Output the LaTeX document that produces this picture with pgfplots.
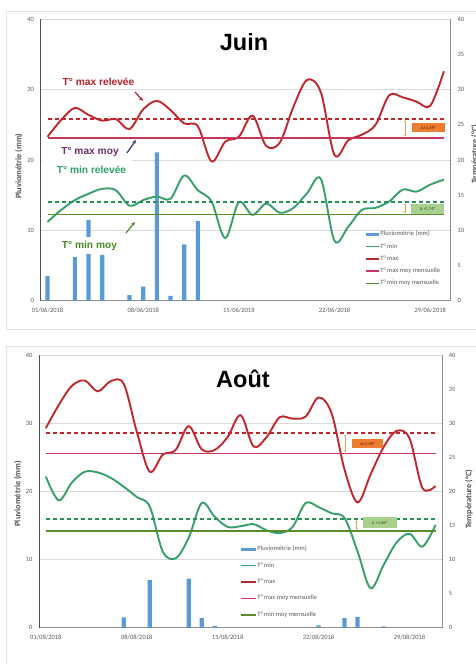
\documentclass[border=0pt]{standalone}
\usepackage{pgfplots}
\pgfplotsset{compat=1.18}
\usepackage{fontspec}
\setmainfont{Carlito}
\newfontfamily\arialfont{Liberation Sans}
\usetikzlibrary{arrows.meta}

\definecolor{tmaxc}{HTML}{C0272D}
\definecolor{tminc}{HTML}{35A06A}
\definecolor{tmindash}{HTML}{2B8F5A}
\definecolor{maxmoyc}{HTML}{C8365E}
\definecolor{minmoyc}{HTML}{5B8C2C}
\definecolor{barc}{HTML}{5B9BD5}
\definecolor{gridc}{HTML}{D9D9D9}
\definecolor{axisc}{HTML}{8C8C8C}
\definecolor{darkaxis}{HTML}{505050}
\definecolor{labelc}{HTML}{595959}
\definecolor{framec}{HTML}{E3E3E3}
\definecolor{orangebox}{HTML}{ED7D31}
\definecolor{greenbox}{HTML}{A9D18E}
\definecolor{tanc}{HTML}{D9A25F}
\definecolor{annred}{HTML}{B3222F}
\definecolor{annpurple}{HTML}{6B2D6E}
\definecolor{arrpurple}{HTML}{4A2C7A}
\definecolor{anntgreen}{HTML}{2EA06C}
\definecolor{anngreen}{HTML}{4A8A28}
\definecolor{boxtext}{HTML}{5A1E00}
\definecolor{boxtextg}{HTML}{2F4A20}

\pgfplotsset{
  base/.style={scale only axis, anchor=south west, ymin=0, ymax=40, clip=false,
    tick style={draw=none}, major tick length=0pt,
    /pgf/number format/assume math mode=true,
    ticklabel style={font=\fontsize{6.5bp}{7bp}\selectfont, text=labelc},
    label style={font=\bfseries\fontsize{8.4bp}{9bp}\selectfont, text=darkaxis}},
  leftax/.style={base, axis x line*=bottom, axis y line*=left, ytick={0,10,20,30,40},
    ymajorgrids, grid style={draw=gridc, line width=0.7bp},
    x axis line style={-, draw=axisc, line width=0.7bp},
    y axis line style={-, draw=darkaxis, line width=0.7bp},
    yticklabel style={xshift=-3.3bp}, xticklabel style={yshift=-4.2bp},
    xtick={1,8,15,22,29},
    ylabel={Pluviométrie (mm)},
    ylabel style={at={(axis description cs:-0.053,0.478)}, anchor=center},
    legend cell align=left,
    legend style={draw=none, fill=none, font=\fontsize{6.5bp}{7bp}\selectfont, text=labelc,
      anchor=north west, inner sep=0pt, nodes={inner sep=0.6bp}}},
  rightax/.style={base, axis x line=none, axis y line*=right, ytick={0,5,...,40},
    y axis line style={-, draw=axisc, line width=0.7bp},
    yticklabel style={xshift=3.3bp}, ylabel={Température (°C)}},
  curve/.style={smooth, tension=0.55, line width=1.9bp},
  moyline/.style={line width=1.6bp},
  dashline/.style={line width=1.8bp, dash pattern=on 4.5bp off 2.5bp},
  bars/.style={ybar, bar width=4.2bp, fill=barc, draw=none},
}

\begin{document}
\begin{tikzpicture}
\useasboundingbox (0,0) rectangle (476bp,664bp);

% ================= JUIN =================
\begin{axis}[leftax, at={(40.7bp,363.3bp)}, width=410bp, height=281.4bp,
  xmin=0.5, xmax=30.5,
  xticklabels={01/06/2018,08/06/2018,15/06/2018,22/06/2018,29/06/2018},
  legend style={at={(axis cs:24.23,10.02)}, row sep=5.1bp},
  legend image code/.code={\draw[#1, line width=1.6bp] (0bp,0bp) -- (13bp,0bp);}]
\addplot[bars, legend image code/.code={\fill[barc] (0bp,-1.6bp) rectangle (13bp,1.6bp);}] coordinates {
 (1,3.5) (3,6.2) (4,11.5) (5,6.5) (7,0.8) (8,2.0) (9,21.1) (10,0.67) (11,8.0) (12,11.3)};
\addlegendentry{Pluviométrie (mm)}
\addplot[curve, color=tminc] coordinates {
 (1,11.2) (2,12.9) (3,14.3) (4,15.2) (5,15.9) (6,15.7) (7,13.5) (8,14.3) (9,14.8) (10,14.5)
 (11,17.8) (12,15.7) (13,14.1) (14,8.9) (15,14.0) (16,12.2) (17,13.8) (18,12.5) (19,13.2) (20,15.3)
 (21,17.3) (22,8.5) (23,10.5) (24,12.9) (25,13.2) (26,14.1) (27,15.8) (28,15.5) (29,16.5) (30,17.2)};
\addlegendentry{T° min}
\addplot[curve, color=tmaxc] coordinates {
 (1,23.3) (2,25.7) (3,27.4) (4,26.4) (5,25.6) (6,25.8) (7,24.4) (8,27.2) (9,28.4) (10,27.1)
 (11,25.2) (12,24.8) (13,19.8) (14,22.6) (15,23.3) (16,26.3) (17,22.0) (18,22.5) (19,27.6) (20,31.4)
 (21,29.6) (22,20.7) (23,22.8) (24,23.6) (25,25.0) (26,29.2) (27,28.9) (28,28.3) (29,27.7) (30,32.6)};
\addlegendentry{T° max}
\addplot[moyline, color=maxmoyc] coordinates {(1,23.14) (30,23.14)};
\addlegendentry{T° max moy mensuelle}
\addplot[moyline, color=minmoyc] coordinates {(1,12.28) (30,12.28)};
\addlegendentry{T° min moy mensuelle}
\addplot[dashline, color=tmaxc, forget plot] coordinates {(1,25.83) (30,25.83)};
\addplot[dashline, color=tmindash, forget plot] coordinates {(1,14.02) (30,14.02)};
% title
\node[font=\arialfont\bfseries\fontsize{23.5bp}{25bp}\selectfont] at (axis cs:15.38,36.77) {Juin};
% delta boxes
\draw[tanc, line width=0.7bp, {Stealth[length=2.2bp,width=2.4bp]}-{Stealth[length=2.2bp,width=2.4bp]}] (axis cs:27.15,25.65) -- (axis cs:27.15,23.32);
\fill[orangebox] (axis cs:27.64,25.26) rectangle (axis cs:30.08,23.98);
\node[font=\fontsize{4.5bp}{5bp}\selectfont, text=boxtext] at (axis cs:28.86,24.62) {Δ+2.69°};
\draw[tanc, line width=0.7bp, {Stealth[length=2.2bp,width=2.4bp]}-{Stealth[length=2.2bp,width=2.4bp]}] (axis cs:27.15,13.85) -- (axis cs:27.15,12.45);
\fill[greenbox] (axis cs:27.6,13.79) rectangle (axis cs:30.0,12.37);
\node[font=\fontsize{4.5bp}{5bp}\selectfont, text=boxtextg] at (axis cs:28.8,13.08) {Δ +1.74°};
% annotations
\fill[white] (axis cs:0.56,20.35) rectangle (axis cs:7.2,19.65);
\node[font=\arialfont\bfseries\fontsize{10.2bp}{11bp}\selectfont, text=annred, fill=white, inner xsep=1bp, inner ysep=2bp] at (axis cs:4.73,31.09) {T° max relevée};
\draw[annred, line width=1.2bp, -{Stealth[length=4bp,width=3.6bp]}] (axis cs:7.40,29.67) -- (axis cs:7.98,28.39);
\node[font=\arialfont\bfseries\fontsize{10.2bp}{11bp}\selectfont, text=annpurple, fill=white, inner xsep=1bp, inner ysep=2bp] at (axis cs:4.11,21.14) {T° max moy};
\draw[arrpurple, line width=1.2bp, -{Stealth[length=4bp,width=3.6bp]}] (axis cs:6.81,21.0) -- (axis cs:7.47,22.84);
\node[font=\arialfont\bfseries\fontsize{10.2bp}{11bp}\selectfont, text=anntgreen, fill=white, inner xsep=1bp, inner ysep=2bp] at (axis cs:4.22,18.58) {T° min relevée};
\node[font=\arialfont\bfseries\fontsize{10.2bp}{11bp}\selectfont, text=anngreen, fill=white, inner xsep=1bp, inner ysep=3.5bp] at (axis cs:4.07,7.85) {T° min moy};
\draw[anngreen, line width=1.2bp, -{Stealth[length=4bp,width=3.6bp]}] (axis cs:6.74,9.62) -- (axis cs:7.40,11.19);
\end{axis}
\begin{axis}[rightax, at={(40.7bp,363.3bp)}, width=410bp, height=281.4bp,
  xmin=0.5, xmax=30.5,
  ylabel style={at={(axis description cs:1.059,0.521)}, anchor=center}]
\addplot[draw=none, forget plot] coordinates {(1,0)};
\end{axis}

% ================= AOUT =================
\begin{axis}[leftax, at={(39.3bp,36.3bp)}, width=402.7bp, height=272.4bp,
  xmin=0.5, xmax=31.5,
  xticklabels={01/08/2018,08/08/2018,15/08/2018,22/08/2018,29/08/2018},
  ylabel style={at={(axis description cs:-0.053,0.492)}},
  legend style={at={(axis cs:15.95,12.11)}, row sep=9.2bp},
  legend image code/.code={\draw[#1, line width=1.6bp] (0bp,0bp) -- (15bp,0bp);}]
\addplot[bars, legend image code/.code={\fill[barc] (0bp,-1.6bp) rectangle (15bp,1.6bp);}] coordinates {
 (7,1.5) (9,7.0) (12,7.2) (13,1.4) (14,0.25) (22,0.35) (24,1.4) (25,1.6) (27,0.2)};
\addlegendentry{Pluviométrie (mm)}
\addplot[curve, color=tminc] coordinates {
 (1,22.2) (2,18.7) (3,21.3) (4,22.9) (5,22.8) (6,22.0) (7,20.7) (8,19.2) (9,17.8) (10,11.2)
 (11,10.2) (12,13.2) (13,18.3) (14,16.3) (15,14.8) (16,14.9) (17,15.2) (18,14.3) (19,13.9) (20,14.8)
 (21,18.3) (22,17.7) (23,16.8) (24,16.1) (25,11.2) (26,5.8) (27,9.2) (28,12.5) (29,13.8) (30,11.9) (31,15.1)};
\addlegendentry{T° min}
\addplot[curve, color=tmaxc] coordinates {
 (1,29.3) (2,32.7) (3,35.5) (4,36.3) (5,34.7) (6,36.2) (7,35.8) (8,28.8) (9,22.9) (10,25.4)
 (11,26.1) (12,29.6) (13,26.2) (14,26.1) (15,28.0) (16,31.2) (17,26.6) (18,28.0) (19,30.9) (20,30.7)
 (21,31.0) (22,33.8) (23,31.5) (24,23.2) (25,18.4) (26,22.5) (27,26.5) (28,28.9) (29,27.8) (30,20.5) (31,20.8)};
\addlegendentry{T° max}
\addplot[moyline, color=maxmoyc] coordinates {(1,25.6) (31,25.6)};
\addlegendentry{T° max moy mensuelle}
\addplot[moyline, color=minmoyc] coordinates {(1,14.23) (31,14.23)};
\addlegendentry{T° min moy mensuelle}
\addplot[dashline, color=tmaxc, forget plot] coordinates {(1,28.54) (31,28.54)};
\addplot[dashline, color=tmindash, forget plot] coordinates {(1,15.91) (31,15.91)};
\node[font=\arialfont\bfseries\fontsize{23.5bp}{25bp}\selectfont] at (axis cs:16.18,36.52) {Août};
\draw[tanc, line width=0.7bp, {Stealth[length=2.2bp,width=2.4bp]}-{Stealth[length=2.2bp,width=2.4bp]}] (axis cs:24.03,28.35) -- (axis cs:24.03,25.75);
\fill[orangebox] (axis cs:24.55,27.67) rectangle (axis cs:26.98,26.43);
\node[font=\fontsize{4.5bp}{5bp}\selectfont, text=boxtext] at (axis cs:25.77,27.05) {Δ+2.94°};
\draw[tanc, line width=0.7bp, {Stealth[length=2.2bp,width=2.4bp]}-{Stealth[length=2.2bp,width=2.4bp]}] (axis cs:24.93,15.78) -- (axis cs:24.93,14.38);
\fill[greenbox] (axis cs:25.42,16.21) rectangle (axis cs:28.01,14.6);
\node[font=\fontsize{4.5bp}{5bp}\selectfont, text=boxtextg] at (axis cs:26.7,15.4) {Δ +1.68°};
\end{axis}
\begin{axis}[rightax, at={(39.3bp,36.3bp)}, width=402.7bp, height=272.4bp,
  xmin=0.5, xmax=31.5,
  ylabel style={at={(axis description cs:1.0666,0.472)}, anchor=center}]
\addplot[draw=none, forget plot] coordinates {(1,0)};
\end{axis}

% panel frames
\draw[framec, line width=0.7bp] (6.7bp,652.3bp) rectangle (490bp,335bp);
\draw[framec, line width=0.7bp] (6.7bp,318bp) rectangle (490bp,-10bp);
\end{tikzpicture}
\end{document}
